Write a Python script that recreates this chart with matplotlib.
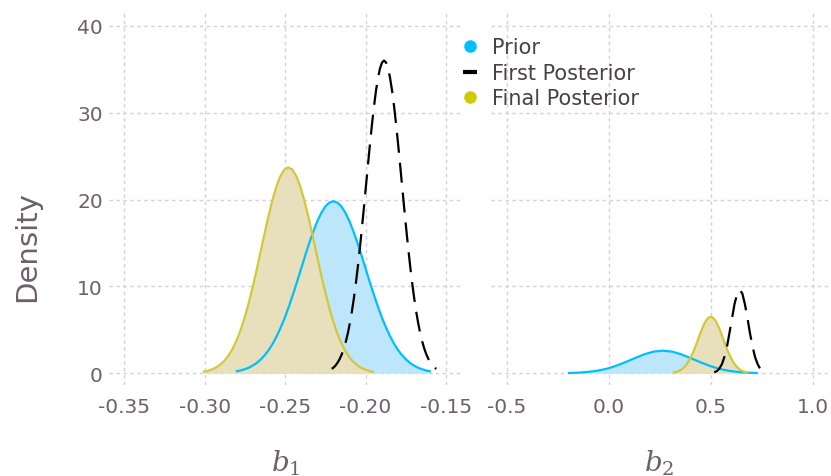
import matplotlib
matplotlib.use("Agg")
import matplotlib.pyplot as plt
from matplotlib.lines import Line2D

# ---------------------------------------------
# density curves (b1)
# ---------------------------------------------
b1_prior_x = [-0.2800, -0.2775, -0.2750, -0.2725, -0.2700, -0.2675, -0.2650, -0.2625,
              -0.2600, -0.2575, -0.2550, -0.2525, -0.2500, -0.2475, -0.2450, -0.2425,
              -0.2400, -0.2375, -0.2350, -0.2325, -0.2300, -0.2275, -0.2250, -0.2225,
              -0.2200, -0.2175, -0.2150, -0.2125, -0.2100, -0.2075, -0.2050, -0.2025,
              -0.2000, -0.1975, -0.1950, -0.1925, -0.1900, -0.1875, -0.1850, -0.1825,
              -0.1800, -0.1775, -0.1750, -0.1725, -0.1700, -0.1675, -0.1650, -0.1625,
              -0.1600]
b1_prior_y = [0.23, 0.33, 0.47, 0.65, 0.90, 1.21, 1.62, 2.12,
              2.73, 3.47, 4.35, 5.36, 6.50, 7.77, 9.14, 10.58,
              12.07, 13.56, 14.99, 16.32, 17.50, 18.47, 19.20, 19.65,
              19.80, 19.65, 19.20, 18.47, 17.50, 16.32, 14.99, 13.56,
              12.07, 10.58, 9.14, 7.77, 6.50, 5.36, 4.35, 3.47,
              2.73, 2.12, 1.62, 1.21, 0.90, 0.65, 0.47, 0.33,
              0.23]

b1_first_x = [-0.22100, -0.21975, -0.21850, -0.21725, -0.21600, -0.21475, -0.21350,
              -0.21225, -0.21100, -0.20975, -0.20850, -0.20725, -0.20600, -0.20475,
              -0.20350, -0.20225, -0.20100, -0.19975, -0.19850, -0.19725, -0.19600,
              -0.19475, -0.19350, -0.19225, -0.19100, -0.18975, -0.18850, -0.18725,
              -0.18600, -0.18475, -0.18350, -0.18225, -0.18100, -0.17975, -0.17850,
              -0.17725, -0.17600, -0.17475, -0.17350, -0.17225, -0.17100, -0.16975,
              -0.16850, -0.16725, -0.16600, -0.16475, -0.16350, -0.16225, -0.16100,
              -0.15975, -0.15850, -0.15725, -0.15600]
b1_first_y = [0.50, 0.68, 0.93, 1.26, 1.67, 2.20, 2.85,
              3.65, 4.61, 5.76, 7.10, 8.64, 10.39, 12.33,
              14.45, 16.71, 19.09, 21.54, 23.99, 26.38, 28.65,
              30.72, 32.53, 34.00, 35.10, 35.77, 36.00, 35.77,
              35.10, 34.00, 32.53, 30.72, 28.65, 26.38, 23.99,
              21.54, 19.09, 16.71, 14.45, 12.33, 10.39, 8.64,
              7.10, 5.76, 4.61, 3.65, 2.85, 2.20, 1.67,
              1.26, 0.93, 0.68, 0.50]

b1_final_x = [-0.3005, -0.2980, -0.2955, -0.2930, -0.2905, -0.2880, -0.2855, -0.2830,
              -0.2805, -0.2780, -0.2755, -0.2730, -0.2705, -0.2680, -0.2655, -0.2630,
              -0.2605, -0.2580, -0.2555, -0.2530, -0.2505, -0.2480, -0.2455, -0.2430,
              -0.2405, -0.2380, -0.2355, -0.2330, -0.2305, -0.2280, -0.2255, -0.2230,
              -0.2205, -0.2180, -0.2155, -0.2130, -0.2105, -0.2080, -0.2055, -0.2030,
              -0.2005, -0.1980, -0.1955]
b1_final_y = [0.18, 0.28, 0.44, 0.66, 0.97, 1.39, 1.96, 2.71,
              3.65, 4.81, 6.21, 7.83, 9.66, 11.67, 13.78, 15.91,
              17.97, 19.85, 21.45, 22.67, 23.44, 23.70, 23.44, 22.67,
              21.45, 19.85, 17.97, 15.91, 13.78, 11.67, 9.66, 7.83,
              6.21, 4.81, 3.65, 2.71, 1.96, 1.39, 0.97, 0.66,
              0.44, 0.28, 0.18]

# ---------------------------------------------
# density curves (b2)
# ---------------------------------------------
b2_prior_x = [-0.195, -0.149, -0.103, -0.057, -0.011, 0.035, 0.081, 0.127, 0.173, 0.219,
              0.265, 0.311, 0.357, 0.403, 0.449, 0.495, 0.541, 0.587, 0.633, 0.679, 0.725]
b2_prior_y = [0.03, 0.07, 0.15, 0.29, 0.51, 0.85, 1.27, 1.73, 2.17, 2.49,
              2.60, 2.49, 2.17, 1.73, 1.27, 0.85, 0.51, 0.29, 0.15, 0.07, 0.03]

b2_first_x = [0.517, 0.530, 0.542, 0.555, 0.567, 0.580, 0.592, 0.605, 0.617, 0.630,
              0.642, 0.655, 0.667, 0.680, 0.692, 0.705, 0.717, 0.730, 0.742, 0.755, 0.767]
b2_first_y = [0.11, 0.25, 0.53, 1.05, 1.89, 3.10, 4.66, 6.40, 8.01, 9.18,
              9.60, 9.18, 8.01, 6.40, 4.66, 3.10, 1.89, 1.05, 0.53, 0.25, 0.11]

b2_final_x = [0.32, 0.33, 0.34, 0.35, 0.36, 0.37, 0.38, 0.39, 0.40, 0.41,
              0.42, 0.43, 0.44, 0.45, 0.46, 0.47, 0.48, 0.49, 0.50, 0.51,
              0.52, 0.53, 0.54, 0.55, 0.56, 0.57, 0.58, 0.59, 0.60, 0.61,
              0.62, 0.63, 0.64, 0.65, 0.66, 0.67, 0.68]
b2_final_y = [0.09, 0.14, 0.22, 0.33, 0.48, 0.69, 0.96, 1.31, 1.73, 2.22,
              2.78, 3.39, 4.03, 4.67, 5.26, 5.77, 6.16, 6.41, 6.50, 6.41,
              6.16, 5.77, 5.26, 4.67, 4.03, 3.39, 2.78, 2.22, 1.73, 1.31,
              0.96, 0.69, 0.48, 0.33, 0.22, 0.14, 0.09]

b1_ticks = [-0.35, -0.30, -0.25, -0.20, -0.15]
b1_ticklabels = ["-0.35", "-0.30", "-0.25", "-0.20", "-0.15"]
b2_ticks = [-0.5, 0.0, 0.5, 1.0]
b2_ticklabels = ["-0.5", "0.0", "0.5", "1.0"]
y_ticks = [0, 10, 20, 30, 40]

# colours
c_prior = "#00bfff"
c_prior_fill = "#bde6fb"
c_final = "#d2c83a"
c_final_fill = "#e8e0bc"
c_final_dot = "#cccc00"
c_grid = "#d0d0e0"
c_text = "#6c606b"

plt.rcParams["font.family"] = ["DejaVu Sans"]
plt.rcParams["mathtext.fontset"] = "dejavuserif"

fig = plt.figure(figsize=(8.31, 4.77), dpi=100)
ax1 = fig.add_axes([0.1312, 0.1908, 0.4248, 0.784])
ax2 = fig.add_axes([0.5909, 0.1908, 0.4055, 0.784])


def draw_panel(ax, px, py, fx, fy, nx, ny):
    ax.fill_between(px, py, 0, color=c_prior_fill, lw=0, zorder=2)
    ax.fill_between(nx, ny, 0, color=c_final_fill, lw=0, zorder=3)
    ax.plot(px, py, color=c_prior, lw=1.6, zorder=4, solid_joinstyle="round")
    ax.plot(nx, ny, color=c_final, lw=1.6, zorder=4, solid_joinstyle="round")
    ax.plot(fx, fy, color="black", lw=1.6, dashes=(9, 4.5), zorder=5)

    ax.set_ylim(-1.35, 41.7)
    ax.set_yticks(y_ticks)
    ax.grid(True, color=c_grid, lw=1.0, ls=(0, (2.5, 2.5)), zorder=0)
    for s in ax.spines.values():
        s.set_visible(False)
    ax.tick_params(length=0, colors=c_text, labelsize=14.5)
    ax.tick_params(axis="x", pad=9)
    ax.tick_params(axis="y", pad=4.5)


draw_panel(ax1, b1_prior_x, b1_prior_y, b1_first_x, b1_first_y, b1_final_x, b1_final_y)
draw_panel(ax2, b2_prior_x, b2_prior_y, b2_first_x, b2_first_y, b2_final_x, b2_final_y)

ax1.set_xlim(-0.3595, -0.140)
ax1.set_xticks(b1_ticks)
ax1.set_xticklabels(b1_ticklabels)
ax2.set_xlim(-0.577, 1.075)
ax2.set_xticks(b2_ticks)
ax2.set_xticklabels(b2_ticklabels)
ax2.tick_params(labelleft=False)

ax1.set_ylabel("Density", fontsize=21, color=c_text, va="center")
ax1.yaxis.set_label_coords(-0.232, 0.372)
for ax, lab in ((ax1, "$b_1$"), (ax2, "$b_2$")):
    ax.set_xlabel(lab, fontsize=20, color=c_text, va="center")
    ax.xaxis.set_label_coords(0.5, -0.206)

handles = [
    Line2D([], [], ls="none", marker="o", ms=8, color=c_prior),
    Line2D([], [], ls="none", marker="_", ms=10, mew=3, color="black"),
    Line2D([], [], ls="none", marker="o", ms=8, color=c_final_dot),
]
leg = fig.legend(handles, ["Prior", "First Posterior", "Final Posterior"],
                 loc="upper left", bbox_to_anchor=(0.5556, 0.9195), frameon=False,
                 fontsize=15, handlelength=0.8, handletextpad=0.66,
                 labelspacing=0.26, borderpad=0, borderaxespad=0)
for t in leg.get_texts():
    t.set_color("#4a4048")

fig.savefig("out.png", dpi=100)
